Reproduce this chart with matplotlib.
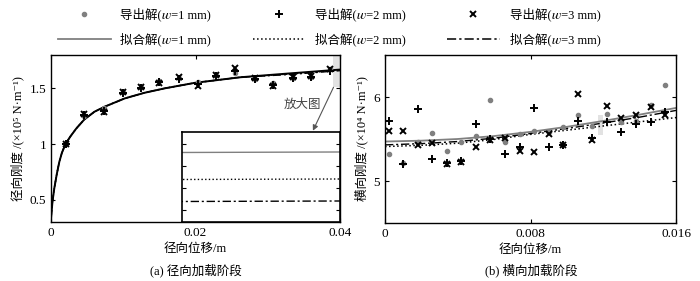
import matplotlib
matplotlib.use("Agg")
import matplotlib.pyplot as plt
from matplotlib.lines import Line2D
from matplotlib.patches import Rectangle

plt.rcParams['font.family'] = ['Liberation Serif', 'Noto Sans CJK SC', 'STIXGeneral', 'DejaVu Serif']
plt.rcParams['axes.unicode_minus'] = False

# (a) radial loading stage
rad_x = [0.0021, 0.0046, 0.0073, 0.0099, 0.0125, 0.0150, 0.0177, 0.0204, 0.0229,
         0.0255, 0.0282, 0.0307, 0.0335, 0.0360, 0.0386]
rad_w1 = [1.00, 1.25, 1.32, 1.47, 1.51, 1.57, 1.59, 1.56, 1.62, 1.64, 1.58, 1.55, 1.59, 1.60, 1.67]
rad_w2 = [1.00, 1.26, 1.30, 1.46, 1.50, 1.56, 1.58, 1.54, 1.61, 1.66, 1.58, 1.53, 1.59, 1.60, 1.66]
rad_w3 = [1.00, 1.27, 1.29, 1.47, 1.51, 1.55, 1.60, 1.52, 1.62, 1.68, 1.59, 1.52, 1.60, 1.61, 1.67]

rad_fit_x = [0, 0.0002, 0.00045, 0.0008, 0.00115, 0.0015, 0.002, 0.0027, 0.0035, 0.0046,
             0.006, 0.0074, 0.0102, 0.0129, 0.0157, 0.0199, 0.0262, 0.0331, 0.04]
rad_fit1 = [0.33, 0.48, 0.60, 0.73, 0.84, 0.92, 1.00, 1.07, 1.14, 1.22, 1.29, 1.335, 1.41,
            1.46, 1.50, 1.55, 1.60, 1.635, 1.669]
rad_fit2 = [0.33, 0.48, 0.60, 0.73, 0.84, 0.92, 1.00, 1.07, 1.14, 1.22, 1.29, 1.335, 1.41,
            1.46, 1.50, 1.55, 1.60, 1.6296, 1.6636]
rad_fit3 = [0.33, 0.48, 0.60, 0.73, 0.84, 0.92, 1.00, 1.07, 1.14, 1.22, 1.29, 1.335, 1.41,
            1.46, 1.50, 1.55, 1.60, 1.6252, 1.6592]

# (b) lateral loading stage
lat_x = [0.0002, 0.0010, 0.0018, 0.0026, 0.0034, 0.0042, 0.0050, 0.0058, 0.0066, 0.0074,
         0.0082, 0.0090, 0.0098, 0.0106, 0.0114, 0.0122, 0.0130, 0.0138, 0.0146, 0.0154]
lat_w1 = [5.32, 5.21, 5.46, 5.57, 5.36, 5.47, 5.53, 5.96, 5.46, 5.56,
          5.60, 5.58, 5.64, 5.78, 5.65, 5.80, 5.70, 5.71, 5.90, 6.14]
lat_w2 = [5.72, 5.20, 5.86, 5.26, 5.22, 5.24, 5.68, 5.50, 5.32, 5.40,
          5.87, 5.41, 5.43, 5.72, 5.51, 5.70, 5.58, 5.68, 5.70, 5.82]
lat_w3 = [5.60, 5.60, 5.43, 5.45, 5.20, 5.23, 5.41, 5.49, 5.51, 5.36,
          5.35, 5.56, 5.43, 6.03, 5.49, 5.89, 5.75, 5.78, 5.88, 5.79]

lat_fit_x = [0, 0.002, 0.004, 0.006, 0.008, 0.010, 0.012, 0.014, 0.016]
lat_fit1 = [5.47, 5.48, 5.50, 5.535, 5.585, 5.645, 5.715, 5.79, 5.87]
lat_fit2 = [5.41, 5.425, 5.45, 5.495, 5.555, 5.605, 5.655, 5.705, 5.755]
lat_fit3 = [5.43, 5.445, 5.47, 5.51, 5.565, 5.625, 5.69, 5.76, 5.84]

gray = '#808080'
dashdot = (0, (6, 2, 1.5, 2))
pt_kw = dict(ls='none', zorder=3)
m1 = dict(marker='o', ms=3, color=gray, mec=gray)
m2 = dict(marker='+', ms=5.5, mew=1.4, color='black')
m3 = dict(marker='x', ms=4, mew=1.4, color='black')

fig = plt.figure(figsize=(7, 2.81), dpi=100)
ax1 = fig.add_axes([51 / 700, 1 - 222 / 281, 289 / 700, 167 / 281])
ax2 = fig.add_axes([385 / 700, 1 - 223 / 281, 291 / 700, 168 / 281])

for ax in (ax1, ax2):
    ax.tick_params(direction='in', top=True, right=True, length=3, width=0.8, labelsize=9.5)
    for s in ax.spines.values():
        s.set_linewidth(1.0)

# --- left panel
ax1.add_patch(Rectangle((0.0391, 1.51), 0.0009, 0.29, color='#e2e2e2', lw=0, zorder=1))
ax1.plot(rad_fit_x, rad_fit1, color='black', lw=1.4, zorder=2)
ax1.plot(rad_fit_x, rad_fit2, color='black', lw=1.0, ls=':', zorder=2)
ax1.plot(rad_fit_x, rad_fit3, color='black', lw=1.0, ls=dashdot, zorder=2)
ax1.plot(rad_x, rad_w1, **m1, **pt_kw)
ax1.plot(rad_x, rad_w2, **m2, **pt_kw)
ax1.plot(rad_x, rad_w3, **m3, **pt_kw)
ax1.set_xlim(0, 0.04)
ax1.set_ylim(0.3, 1.8)
ax1.set_xticks([0, 0.02, 0.04], ['0', '0.02', '0.04'])
ax1.set_yticks([0.5, 1, 1.5], ['0.5', '1', '1.5'])
ax1.set_xlabel('径向位移/m', fontsize=9, labelpad=3)
ax1.set_ylabel('径向刚度 /(×10⁵ N·m⁻¹)', fontsize=9, labelpad=4)

ax1.annotate('', xy=(0.03625, 1.12), xytext=(0.0391, 1.51),
             arrowprops=dict(arrowstyle='-|>', color='#555555', lw=0.8,
                             mutation_scale=8, shrinkA=0, shrinkB=0))
ax1.text(0.0348, 1.35, '放大图', fontsize=9, ha='center', va='center', color='#444444')

axin = ax1.inset_axes([0.452, 0.0, 0.548, 0.539])
axin.plot(rad_fit_x, rad_fit1, color=gray, lw=1.0)
axin.plot(rad_fit_x, rad_fit2, color='black', lw=1.0, ls=':')
axin.plot(rad_fit_x, rad_fit3, color='black', lw=1.0, ls=dashdot)
axin.set_xlim(0.03998, 0.04)
axin.set_ylim(1.655, 1.673)
axin.set_xticks([])
axin.set_yticks([1.6574, 1.6618, 1.6662, 1.6706])
axin.tick_params(direction='in', left=True, right=True, labelleft=False, length=3)
for s in axin.spines.values():
    s.set_linewidth(1.2)

# --- right panel
ax2.add_patch(Rectangle((0.0117, 5.55), 0.0003, 0.23, color='#e2e2e2', lw=0, zorder=1))
ax2.plot(lat_fit_x, lat_fit1, color=gray, lw=1.3, zorder=2)
ax2.plot(lat_fit_x, lat_fit2, color='black', lw=1.1, ls=':', zorder=2)
ax2.plot(lat_fit_x, lat_fit3, color='black', lw=1.0, ls=dashdot, zorder=2)
ax2.plot(lat_x, lat_w1, **m1, **pt_kw)
ax2.plot(lat_x, lat_w2, **m2, **pt_kw)
ax2.plot(lat_x, lat_w3, **m3, **pt_kw)
ax2.set_xlim(0, 0.016)
ax2.set_ylim(4.5, 6.5)
ax2.set_xticks([0, 0.008, 0.016], ['0', '0.008', '0.016'])
ax2.set_yticks([5, 6], ['5', '6'])
ax2.set_xlabel('径向位移/m', fontsize=9, labelpad=3)
ax2.set_ylabel('横向刚度 /(×10⁴ N·m⁻¹)', fontsize=9, labelpad=4)

fig.text(196 / 700, 1 - 270 / 281, '(a) 径向加载阶段', fontsize=9, ha='center', va='center')
fig.text(531 / 700, 1 - 270 / 281, '(b) 横向加载阶段', fontsize=9, ha='center', va='center')

# --- legend
handles = [
    Line2D([], [], ls='none', **m1),
    Line2D([], [], color=gray, lw=1.3),
    Line2D([], [], ls='none', **m2),
    Line2D([], [], color='black', lw=1.1, ls=':'),
    Line2D([], [], ls='none', **m3),
    Line2D([], [], color='black', lw=1.1, ls=dashdot),
]
labels = ['导出解(𝑤=1 mm)', '拟合解(𝑤=1 mm)',
          '导出解(𝑤=2 mm)', '拟合解(𝑤=2 mm)',
          '导出解(𝑤=3 mm)', '拟合解(𝑤=3 mm)']
fig.legend(handles, labels, ncol=3, loc='upper left', bbox_to_anchor=(58 / 700, 1 - 8 / 281),
           frameon=False, fontsize=9, handlelength=4.2, handletextpad=0.8,
           columnspacing=3.3, labelspacing=0.9, borderpad=0, borderaxespad=0, numpoints=1)

fig.savefig('out.png', dpi=100)
